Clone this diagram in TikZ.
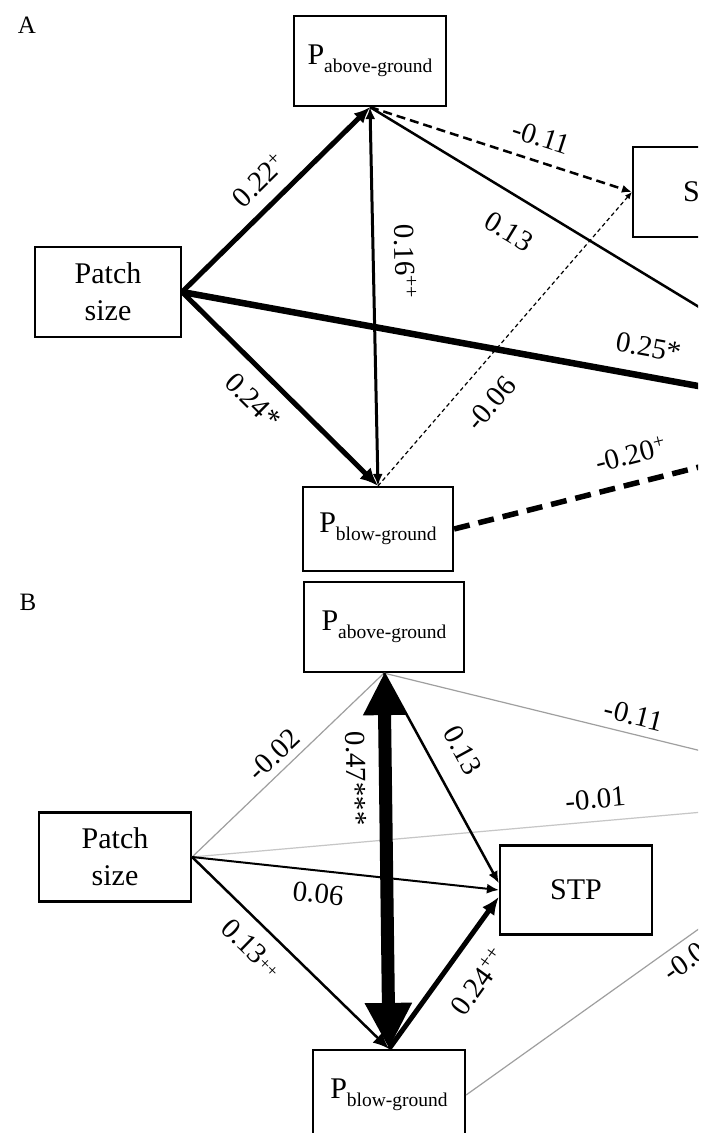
\documentclass[tikz,border=0pt]{standalone}
\usepackage{fontspec}
\setmainfont{Liberation Serif}
\usetikzlibrary{arrows.meta}

% P with a lowered, smaller qualifier
\newcommand\Pvar[1]{P\raisebox{-8pt}{\fontsize{19.5}{20}\selectfont #1}}

\tikzset{
  box/.style={draw, line width=2.2pt, inner sep=0pt, align=center,
              font=\fontsize{30}{37}\selectfont, fill=white},
  lab/.style={font=\fontsize{29}{30}\selectfont, inner sep=1pt, sloped},
  panel/.style={font=\fontsize{25}{26}\selectfont, inner sep=0pt},
  faint/.style={draw=gray!75, line width=1.2pt},
  fainter/.style={draw=gray!45, line width=1.2pt},
  tipS/.style={-{Latex[length=10pt,width=8pt]}},
  tipM/.style={-{Latex[length=16pt,width=14pt]}},
  tipL/.style={-{Latex[length=18pt,width=16pt]}},
}

\begin{document}
\begin{tikzpicture}[x=1pt, y=-1pt]
\useasboundingbox (0,0) rectangle (714,1133);
\fill[white] (0,0) rectangle (714,1133);
\begin{scope}
\clip (0,0) rectangle (698,1133);

% ---------------- panel A ----------------
\node[panel] (labA) at (27,25) {A};
\node[box, minimum width=152pt, minimum height=90pt] (PaA) at (370,61) {\Pvar{above-ground}};
\node[box, minimum width=152pt, minimum height=90pt] (SA) at (709,192) {STP};
\node[box, minimum width=146pt, minimum height=90pt] (PatchA) at (108,292) {Patch\\size};
\node[box, minimum width=150pt, minimum height=84pt] (PbA) at (378,529) {\Pvar{blow-ground}};
\coordinate (HA) at (885,420);

\draw[line width=5pt, tipM] (PatchA.east) --
  node[lab, pos=0.506, above=12pt] {0.22\textsuperscript{+}} (PaA.south);
\draw[line width=5pt, tipL] (PatchA.east) --
  node[lab, pos=0.46, below=14pt] {0.24*} (PbA.north);
\draw[line width=6.5pt] (PatchA.east) --
  node[lab, pos=0.656, above=15pt] {0.25*} (HA);
\draw[line width=3pt, {Latex[length=12pt,width=10pt]}-{Latex[length=12pt,width=10pt]}] (PaA.south) --
  node[lab, pos=0.41, above=19pt] {0.16\textsuperscript{++}} (PbA.north);
\draw[line width=2.5pt, dash pattern=on 9pt off 5pt, tipS] (PaA.south) --
  node[lab, pos=0.626, above=12pt] {-0.11} (SA.west);
\draw[line width=2.5pt] (PaA.south) --
  node[lab, pos=0.304, below=22pt] {0.13} (HA);
\draw[line width=1.2pt, dash pattern=on 4pt off 3pt, -{Latex[length=7pt,width=6pt]}] (PbA.north) --
  node[lab, pos=0.35, below=20pt] {-0.06} (SA.west);
\draw[line width=5.5pt, dash pattern=on 16pt off 9pt] (PbA.east) --
  node[lab, pos=0.427, above=15pt] {-0.20\textsuperscript{+}} (HA);

% ---------------- panel B ----------------
\node[panel] (labB) at (28,602) {B};
\node[box, minimum width=160pt, minimum height=90pt] (PaB) at (384,627) {\Pvar{above-ground}};
\node[box, minimum width=152pt, minimum height=89pt] (PatchB) at (115,857) {Patch\\size};
\node[box, minimum width=152pt, minimum height=89pt] (STPB) at (576,890) {STP};
\node[box, minimum width=152pt, minimum height=90pt] (PbB) at (389,1095) {\Pvar{blow-ground}};
\coordinate (HB) at (885,796);

\draw[faint] (PatchB.east) --
  node[lab, pos=0.49, above=6pt] {-0.02} (PaB.south);
\draw[faint] (PaB.south) --
  node[lab, pos=0.49, above=7pt] {-0.11} (HB);
\draw[fainter] (PatchB.east) --
  node[lab, pos=0.585, above=11pt] {-0.01} (HB);
\draw[faint] (PbB.east) --
  node[lab, pos=0.51, below=7pt] {-0.09} (HB);
\draw[line width=2pt, -{Latex[length=12pt,width=10pt]}] (PatchB.east) --
  node[lab, pos=0.419, below=11pt] {0.06} (STPB.west);
\draw[line width=2.5pt, -{Latex[length=12pt,width=10pt]}] (PaB.south) --
  node[lab, pos=0.44, above=20pt] {0.13} (STPB.175);
\draw[line width=2.5pt, tipM] (PatchB.east) --
  node[lab, pos=0.388, below=12pt] {0.13\raisebox{2pt}{\fontsize{18}{18}\selectfont ++}} (PbB.north);
\draw[line width=5pt, -{Latex[length=18pt,width=15pt]}] (PbB.north) --
  node[lab, pos=0.57, below=19pt] {0.24\textsuperscript{++}} (STPB.185);
\draw[line width=13pt, {Triangle[length=42pt,width=40pt]}-{Triangle[length=46pt,width=44pt]}] (PaB.south) --
  node[lab, pos=0.28, below=12pt] {0.47***} (PbB.north);

\end{scope}
\end{tikzpicture}
\end{document}
